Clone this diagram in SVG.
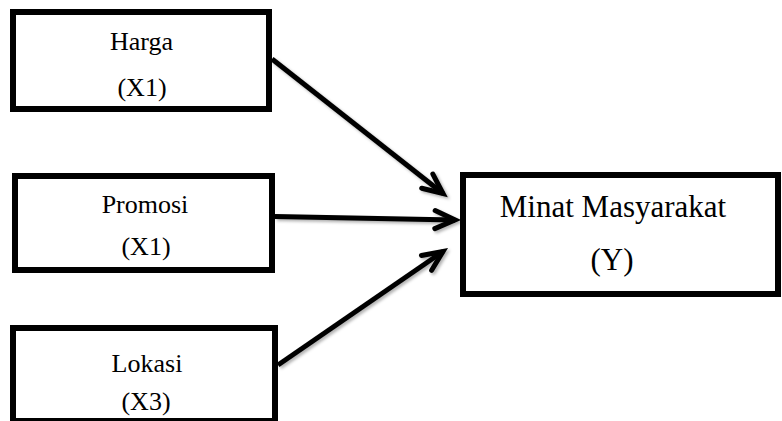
<svg xmlns="http://www.w3.org/2000/svg" width="782" height="421" viewBox="0 0 782 421">
  <style>
    .box { fill: #ffffff; stroke: #000000; stroke-width: 6; }
    .lbl { font-family: "Liberation Serif", "Times New Roman", serif; font-size: 26px; fill: #000000; text-anchor: middle; }
    .big { font-size: 31px; }
    .conn { fill: none; stroke: #000000; stroke-width: 5; }
  </style>
  <defs>
    <filter id="shadow" x="-20%" y="-20%" width="140%" height="140%">
      <feDropShadow dx="2" dy="2" stdDeviation="1.5" flood-color="#000000" flood-opacity="0.3"/>
    </filter>
    <marker id="chev" markerUnits="userSpaceOnUse" viewBox="-26 -14 30 28" refX="0" refY="0" markerWidth="30" markerHeight="28" orient="auto" overflow="visible">
      <path d="M-20,-9 L0,0 L-20,9" fill="none" stroke="#000000" stroke-width="5" stroke-linejoin="miter" stroke-linecap="round"/>
    </marker>
  </defs>
  <rect width="782" height="421" fill="#ffffff"/>
  <g id="connectors" filter="url(#shadow)">
    <line class="conn" x1="272" y1="59" x2="443" y2="193.5" marker-end="url(#chev)"/>
    <line class="conn" x1="275" y1="216.5" x2="455" y2="220" marker-end="url(#chev)"/>
    <line class="conn" x1="278" y1="365" x2="443" y2="251.5" marker-end="url(#chev)"/>
  </g>
  <g id="harga">
    <rect class="box" x="13" y="12" width="256" height="97"/>
    <text class="lbl" x="141.5" y="50">Harga</text>
    <text class="lbl" x="142" y="96">(X1)</text>
  </g>
  <g id="promosi">
    <rect class="box" x="15" y="176" width="257" height="94"/>
    <text class="lbl" x="145" y="213">Promosi</text>
    <text class="lbl" x="146" y="255">(X1)</text>
  </g>
  <g id="lokasi">
    <rect class="box" x="13" y="328" width="262" height="93"/>
    <text class="lbl" x="147" y="372">Lokasi</text>
    <text class="lbl" x="146" y="410">(X3)</text>
  </g>
  <g id="minat">
    <rect class="box" x="463" y="175" width="315" height="119"/>
    <text class="lbl big" x="613" y="217">Minat Masyarakat</text>
    <text class="lbl big" x="612" y="270">(Y)</text>
  </g>
</svg>
